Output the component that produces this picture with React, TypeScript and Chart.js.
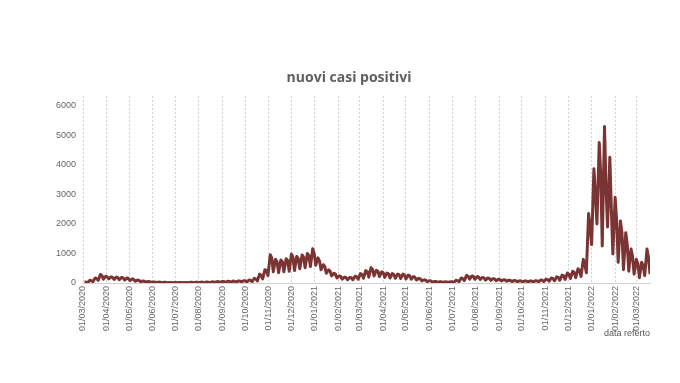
import React, { useEffect, useRef } from "react";
import { Chart, registerables } from "chart.js";

Chart.register(...registerables);

// Week index 0 starts on 01/03/2020; three readings per week (early-week high, late-week value, weekly low)
const weeklyHigh: number[] = [
  40, 90, 170, 290, 230, 210, 200, 190, 170, 140,
  100, 70, 50, 35, 30, 25, 20, 20, 20, 20,
  25, 25, 30, 35, 40, 50, 55, 60, 65, 70,
  80, 100, 160, 300, 450, 960, 800, 780, 820, 980,
  900, 950, 1000, 1160, 850, 620, 450, 330, 240, 200,
  190, 230, 320, 420, 520, 430, 380, 340, 320, 300,
  300, 270, 220, 160, 110, 80, 55, 45, 40, 45,
  90, 170, 260, 240, 220, 190, 170, 150, 130, 110,
  95, 85, 75, 70, 70, 80, 100, 130, 170, 210,
  270, 340, 400, 480, 800, 2350, 3870, 4760, 5300, 4260,
  2900, 2100, 1700, 1150, 800, 700, 1150,
];
const weeklyMid: number[] = [
  30, 80, 150, 250, 210, 190, 180, 170, 150, 120,
  85, 60, 45, 30, 25, 22, 18, 18, 18, 18,
  22, 22, 28, 32, 38, 45, 50, 55, 60, 65,
  75, 90, 140, 260, 420, 850, 720, 720, 760, 880,
  820, 880, 920, 1000, 750, 560, 400, 300, 220, 180,
  180, 210, 290, 380, 460, 400, 350, 310, 290, 280,
  270, 240, 190, 140, 95, 70, 50, 40, 36, 40,
  80, 150, 230, 220, 200, 175, 155, 135, 120, 100,
  85, 78, 70, 65, 65, 72, 90, 115, 150, 190,
  240, 300, 360, 430, 650, 1900, 3000, 3700, 3200, 2500,
  2100, 1700, 1300, 900, 650, 600, 860,
];
const weeklyLow: number[] = [
  5, 40, 90, 130, 140, 120, 110, 100, 80, 60,
  40, 30, 20, 15, 10, 10, 8, 8, 8, 8,
  10, 10, 12, 15, 18, 20, 25, 25, 30, 30,
  35, 45, 70, 140, 250, 380, 350, 380, 400, 420,
  480, 520, 560, 600, 450, 330, 240, 170, 130, 110,
  110, 130, 160, 200, 240, 220, 190, 170, 160, 150,
  140, 130, 100, 70, 50, 30, 25, 20, 18, 20,
  40, 80, 130, 130, 120, 100, 90, 80, 70, 60,
  50, 45, 40, 35, 35, 40, 50, 60, 75, 95,
  120, 150, 180, 220, 350, 1300, 2000, 1250, 1900, 980,
  700, 450, 400, 300, 180, 250, 300,
];
const yTickValues: number[] = [0, 1000, 2000, 3000, 4000, 5000, 6000];

const START = Date.UTC(2020, 2, 1);
const DAY = 86400000;
const LAST_DAY = 748;

function monthStartDays(): number[] {
  const out: number[] = [];
  for (let k = 0; k <= 24; k++) {
    const y = 2020 + Math.floor((2 + k) / 12);
    const m = (2 + k) % 12;
    out.push(Math.round((Date.UTC(y, m, 1) - START) / DAY));
  }
  return out;
}

function fmt(v: number): string {
  const d = new Date(START + v * DAY);
  const dd = String(d.getUTCDate()).padStart(2, "0");
  const mm = String(d.getUTCMonth() + 1).padStart(2, "0");
  return `${dd}/${mm}/${d.getUTCFullYear()}`;
}

export default function App() {
  const ref = useRef<HTMLCanvasElement | null>(null);
  useEffect(() => {
    if (!ref.current) return;
    const pts: { x: number; y: number }[] = [];
    weeklyHigh.forEach((h, i) => {
      pts.push({ x: 7 * i + 2, y: h });
      pts.push({ x: Math.min(7 * i + 4, LAST_DAY - 1), y: weeklyMid[i] });
      pts.push({ x: Math.min(7 * i + 6, LAST_DAY), y: weeklyLow[i] });
    });
    const months = monthStartDays();
    const font = { family: "'Liberation Sans', Arial, sans-serif", size: 9 };
    const chart = new Chart(ref.current, {
      type: "line",
      data: {
        datasets: [
          {
            data: pts,
            borderColor: "#7b3434",
            borderWidth: 3,
            pointRadius: 0,
            tension: 0,
            fill: false,
            borderJoinStyle: "round",
          },
        ],
      },
      options: {
        animation: false,
        responsive: false,
        layout: { padding: { top: 70, left: 48, right: 30, bottom: 40 } },
        plugins: {
          legend: { display: false },
          tooltip: { enabled: false },
          title: {
            display: true,
            text: "nuovi casi positivi",
            color: "#5f5f5f",
            font: { family: "'Open Sans', sans-serif", size: 14, weight: "bold" },
            padding: { top: 0, bottom: 9 },
          },
        },
        scales: {
          x: {
            type: "linear",
            min: 0,
            max: LAST_DAY,
            afterBuildTicks: (s: any) => {
              s.ticks = months.map((v) => ({ value: v }));
            },
            afterFit: (s: any) => {
              s.height = 60;
            },
            ticks: {
              autoSkip: false,
              minRotation: 90,
              maxRotation: 90,
              padding: 3,
              color: "#666",
              font,
              callback: (v: any) => fmt(Number(v)),
            },
            grid: { color: "#cfcfcf", drawTicks: false, lineWidth: 1 },
            border: { display: true, color: "#d0d0d0", dash: [2, 2] },
            title: {
              display: true,
              text: "data referto",
              align: "end",
              color: "#555",
              font,
              padding: { top: 0, bottom: 4 },
            },
          },
          y: {
            min: 0,
            max: 6340,
            afterBuildTicks: (s: any) => {
              s.ticks = yTickValues.map((v) => ({ value: v }));
            },
            afterFit: (s: any) => {
              s.width = 35;
            },
            ticks: { color: "#666", font, padding: 7, callback: (v: any) => String(v) },
            grid: { display: false, drawTicks: false },
            border: { display: false },
          },
        },
      },
    } as any);
    return () => chart.destroy();
  }, []);
  return (
    <div style={{ position: "absolute", left: 0, top: 0, width: 680, height: 383 }}>
      <canvas ref={ref} width={680} height={383} />
    </div>
  );
}
